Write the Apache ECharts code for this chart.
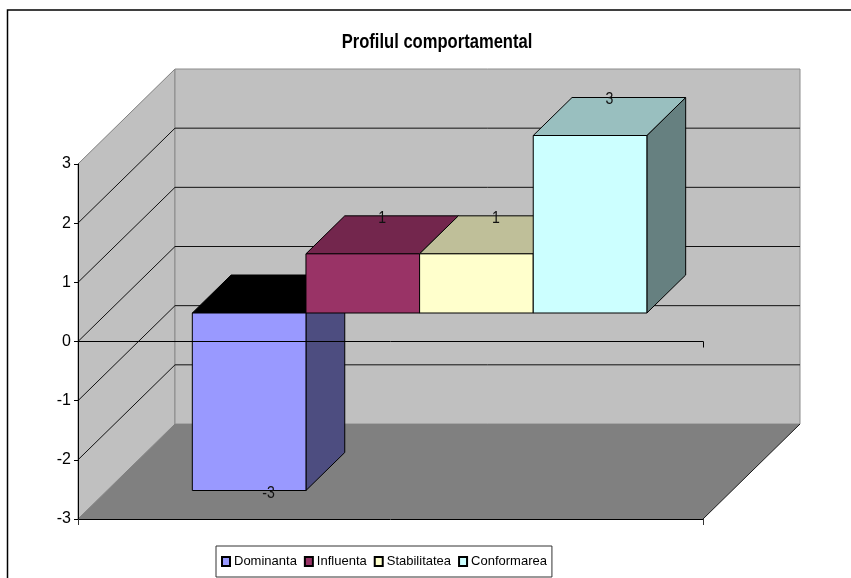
<!DOCTYPE html>
<html>
<head>
<meta charset="utf-8">
<style>html,body{margin:0;padding:0;background:#fff}#container{width:851px;height:578px}</style>
</head>
<body>
<div id="container"></div>
<script src="https://cdn.jsdelivr.net/npm/echarts@6/dist/echarts.min.js"></script>
<script>
var chartTitle = 'Profilul comportamental';
var categories = ['Dominanta', 'Influenta', 'Stabilitatea', 'Conformarea'];
var values = [-3, 1, 1, 3];
var yTicks = [-3, -2, -1, 0, 1, 2, 3];

var frontColors = ['#9999FF', '#993366', '#FFFFCC', '#CCFFFF'];
var topColors = ['#000000', '#73264D', '#BFBF99', '#99BFBF'];
var sideColors = ['#4D4D80', '#4D1A33', '#808066', '#668080'];

var FONT = '"Liberation Sans", Arial, sans-serif';
// fontul din original e ingust, il strangem pe orizontala
var NARROW = 0.83;
// adancimea cutiei 3D, in pixeli
var DEPTH_X = 97, DEPTH_Y = -95;
// barele stau intre 0.3 si 0.7 din adancime
var BAR_NEAR = 0.3, BAR_FAR = 0.7;
var GAP = 1.5; // gap width 150%

var dom = document.getElementById('container');
var myChart = echarts.init(dom, null, { renderer: 'canvas' });

function poly(points, fill, stroke, width) {
  return {
    type: 'polygon',
    shape: { points: points },
    style: { fill: fill, stroke: stroke || null, lineWidth: width || 1 }
  };
}

function line(points, color) {
  return {
    type: 'polyline',
    shape: { points: points },
    style: { fill: null, stroke: color, lineWidth: 1 }
  };
}

function shift(p, f) {
  return [p[0] + DEPTH_X * f, p[1] + DEPTH_Y * f];
}

// peretii, podeaua si liniile de grila
function renderWalls(params, api) {
  var cs = params.coordSys;
  var left = cs.x, right = cs.x + cs.width;
  var top = api.coord([0, yTicks[yTicks.length - 1]])[1];
  var bottom = api.coord([0, yTicks[0]])[1];
  var fl = [left, top], bl = [left, bottom], br = [right, bottom], tr = [right, top];
  var children = [
    poly([fl, shift(fl, 1), shift(bl, 1), bl], '#C0C0C0', '#808080'),
    poly([shift(fl, 1), shift(tr, 1), shift(br, 1), shift(bl, 1)], '#C0C0C0', '#8c8c8c'),
    poly([bl, shift(bl, 1), shift(br, 1), br], '#808080'),
    line([br, shift(br, 1)], '#1a1a1a')
  ];
  yTicks.slice(1, -1).forEach(function (t) {
    var y = api.coord([0, t])[1];
    children.push(line([[left, y], shift([left, y], 1), shift([right, y], 1)], '#111'));
  });
  return { type: 'group', children: children };
}

function renderBox(params, api) {
  var i = params.seriesIndex - 1;
  var v = api.value(1);
  var band = api.size([1, 0])[0];
  var w = band / (categories.length + GAP);
  var center = api.coord([0, v])[0];
  var x0 = center - w * categories.length / 2 + w * i;
  var x1 = x0 + w;
  var yv = api.coord([0, v])[1];
  var y0 = api.coord([0, 0])[1];
  var top = Math.min(yv, y0), bottom = Math.max(yv, y0);
  var a = shift([x0, top], BAR_NEAR), b = shift([x1, top], BAR_NEAR);
  var c = shift([x1, bottom], BAR_NEAR), d = shift([x0, bottom], BAR_NEAR);
  var f = BAR_FAR - BAR_NEAR;
  var mid = shift([(x0 + x1) / 2, yv], (BAR_NEAR + BAR_FAR) / 2);
  return {
    type: 'group',
    children: [
      poly([b, shift(b, f), shift(c, f), c], sideColors[i], '#000'),
      poly([a, shift(a, f), shift(b, f), b], topColors[i], '#000'),
      poly([a, b, c, d], frontColors[i], '#000'),
      {
        type: 'text',
        x: mid[0],
        y: mid[1] + (v < 0 ? 22 : -17),
        scaleX: NARROW,
        style: {
          text: String(v),
          textAlign: 'center',
          textVerticalAlign: 'middle',
          fontFamily: FONT,
          fontSize: 17,
          fill: '#111'
        }
      }
    ]
  };
}

var series = [{
  name: 'pereti',
  type: 'custom',
  z: 1,
  silent: true,
  renderItem: renderWalls,
  data: [[0, 0]],
  encode: { x: 0, y: 1 }
}];

categories.forEach(function (name, i) {
  series.push({
    name: name,
    type: 'custom',
    z: 2,
    renderItem: renderBox,
    itemStyle: { color: frontColors[i], borderColor: '#000', borderWidth: 1 },
    data: [[0, values[i]]],
    encode: { x: 0, y: 1 }
  });
});

var option = {
  animation: false,
  backgroundColor: '#fff',
  legend: {
    data: categories,
    left: 216,
    top: 546,
    icon: 'rect',
    itemWidth: 8,
    itemHeight: 9,
    itemGap: 7,
    padding: [9, 5, 9, 5],
    backgroundColor: '#fff',
    borderColor: '#333',
    borderWidth: 1,
    textStyle: { fontFamily: FONT, fontSize: 13, color: '#000', padding: [0, 0, 0, -1] }
  },
  grid: { left: 78, right: 148, top: 164, bottom: 59 },
  xAxis: [{
    type: 'category',
    data: [''],
    z: 5,
    axisLine: { onZero: true, lineStyle: { color: '#000', width: 1 } },
    axisTick: { show: true, length: 6, lineStyle: { color: '#000' } },
    axisLabel: { show: false }
  }, {
    type: 'category',
    data: [''],
    position: 'bottom',
    z: 5,
    axisLine: { onZero: false, lineStyle: { color: '#000', width: 1 } },
    axisTick: { show: true, length: 6, lineStyle: { color: '#333' } },
    axisLabel: { show: false }
  }],
  yAxis: {
    type: 'value',
    min: -3,
    max: 3,
    interval: 1,
    z: 4,
    splitLine: { show: false },
    axisLine: { show: true, lineStyle: { color: '#000', width: 1 } },
    axisTick: { show: true, length: 4, lineStyle: { color: '#000' } },
    axisLabel: { fontFamily: FONT, fontSize: 16, color: '#000', margin: 7, padding: [3, 0, 0, 0] }
  },
  series: series,
  graphic: [{
    type: 'text',
    silent: true,
    x: 437,
    y: 43,
    scaleX: 0.85,
    style: {
      text: chartTitle,
      textAlign: 'center',
      textVerticalAlign: 'middle',
      fontFamily: FONT,
      fontSize: 19.5,
      fontWeight: 'bold',
      fill: '#000'
    }
  }, {
    type: 'rect',
    silent: true,
    z: 10,
    shape: { x: 7.5, y: 10, width: 900, height: 700 },
    style: { fill: null, stroke: '#000', lineWidth: 1.5 }
  }]
};

if (option && typeof option === 'object') {
  myChart.setOption(option);
}

window.addEventListener('resize', myChart.resize);
</script>
</body>
</html>
